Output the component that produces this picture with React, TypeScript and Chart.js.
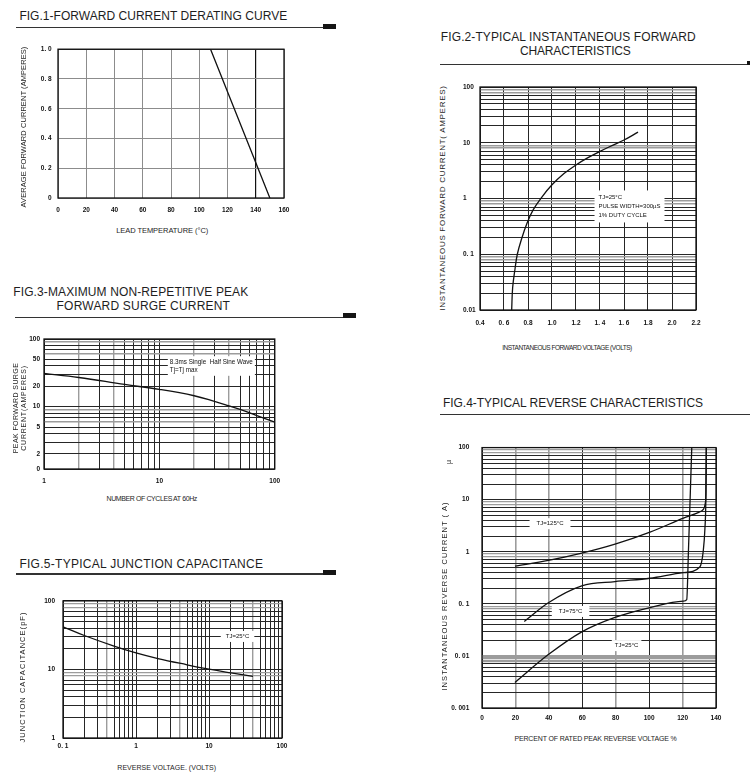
import React, { useEffect, useRef } from "react";
import { Chart, registerables } from "chart.js";
Chart.register(...registerables);

// ---------------- DATA ----------------
// Fig.1 forward current derating curve
const derateTemp = [0, 108, 150];
const derateCurrent = [1.0, 1.0, 0];
const derateXTicks = [0, 20, 40, 60, 80, 100, 120, 140, 160];
const derateXLabels = ["0", "20", "40", "60", "80", "100", "120", "140", "160"];
const derateYTicks = [0, 0.2, 0.4, 0.6, 0.8, 1.0];
const derateYLabels = ["0", "0. 2", "0. 4", "0. 6", "0. 8", "1. 0"];

// Fig.2 typical instantaneous forward characteristics
const fwdVoltage = [0.664, 0.672, 0.692, 0.711, 0.747, 0.794, 0.844, 0.914, 1.0, 1.1, 1.2, 1.3, 1.4, 1.5, 1.6, 1.717];
const fwdCurrent = [0.01, 0.025, 0.055, 0.1, 0.19, 0.37, 0.63, 1.05, 1.76, 2.8, 4.0, 5.4, 7.0, 8.9, 11.2, 15.5];
const fwdXTicks = [0.4, 0.6, 0.8, 1.0, 1.2, 1.4, 1.6, 1.8, 2.0, 2.2];
const fwdXLabels = ["0.4", "0. 6", "0.8", "1.0", "1.2", "1. 4", "1. 6", "1.8", "2.0", "2.2"];
const fwdYLabelValues = [0.01, 0.1, 1, 10, 100];
const fwdYLabels = ["0.01", "0. 1", "1", "10", "100"];

// Fig.3 maximum non-repetitive peak forward surge current
const surgeCycles = [1, 2, 5, 10, 20, 30, 40, 50, 70, 100];
const surgeCurrent = [31, 27, 21.3, 18, 14.5, 12, 10.3, 9.1, 7.4, 5.9];
const surgeXLabelValues = [1, 10, 100];
const surgeXLabels = ["1", "10", "100"];
const surgeYLabelValues = [1.2, 2, 5, 10, 20, 50, 100];
const surgeYLabels = ["0", "2", "5", "10", "20", "50", "100"];

// Fig.5 typical junction capacitance
const capVoltage = [0.1, 0.2, 0.5, 1, 2, 5, 10, 20, 40];
const capValue = [42, 31, 21.9, 17.4, 14.4, 11.7, 10.1, 8.9, 7.9];
const capXLabelValues = [0.1, 1, 10, 100];
const capXLabels = ["0. 1", "1", "10", "100"];
const capYLabelValues = [1, 10, 100];
const capYLabels = ["1", "10", "100"];

// Fig.4 typical reverse characteristics
const rev125Pct = [19.7, 39.7, 59.7, 79.6, 100.5, 120.5, 130.5, 132.4, 133.6, 134.0, 134.2];
const rev125Cur = [0.53, 0.68, 0.94, 1.4, 2.38, 4.43, 5.9, 6.5, 8.5, 15, 100];
const rev75Pct = [25.3, 39.7, 59.7, 79.6, 100.5, 120.5, 130.3, 132.4, 133.4, 133.9, 134.2];
const rev75Cur = [0.046, 0.105, 0.222, 0.268, 0.31, 0.396, 0.51, 1.05, 2.9, 9, 100];
const rev25Pct = [19.7, 39.7, 59.7, 79.6, 100.5, 120.5, 122.5, 123.5, 124.5, 125.5];
const rev25Cur = [0.0031, 0.0106, 0.029, 0.055, 0.085, 0.113, 0.121, 1, 10, 100];
const revXTicks = [0, 20, 40, 60, 80, 100, 120, 140];
const revXLabels = ["0", "20", "40", "60", "80", "100", "120", "140"];
const revYLabelValues = [0.001, 0.01, 0.1, 1, 10, 100];
const revYLabels = ["0. 001", "0. 01", "0. 1", "1", "10", "100"];

// ---------------- HELPERS ----------------
const FONT = '"Liberation Sans", Arial, sans-serif';
const DARK = "#262626";
const GRAY = "#9c9c9c";

function logGrid(lo: number, hi: number): number[] {
  const out: number[] = [];
  for (let e = Math.floor(Math.log10(lo)); e <= Math.ceil(Math.log10(hi)); e++) {
    for (let m = 1; m <= 9; m++) {
      const v = +(m * Math.pow(10, e)).toPrecision(6);
      if (v >= lo - 1e-12 && v <= hi + 1e-12) out.push(v);
    }
  }
  if (!out.some((v) => Math.abs(v - lo) < 1e-12)) out.unshift(lo);
  return out;
}
function mant(v: number): number {
  return Math.round(v / Math.pow(10, Math.floor(Math.log10(v) + 1e-9)));
}

type AxisSpec = {
  type: "linear" | "logarithmic";
  min: number;
  max: number;
  grid: number[];
  labelValues: number[];
  labels: string[];
  style: (v: number) => [string, number];
  pad: number;
  size: number;
  cross?: "near" | "far" | "center";
};
type Series = { x: number[]; y: number[]; curve: "straight" | "smooth" | "monotone" };
type Note = { x: number; y: number; lines: string[]; size: number; lh: number; padX: number; padY: number };
type PanelSpec = {
  left: number;
  top: number;
  width: number;
  height: number;
  padTop: number;
  padRight: number;
  x: AxisSpec;
  y: AxisSpec;
  series: Series[];
  notes: Note[];
};

function axisOptions(a: AxisSpec, isX: boolean) {
  const label = (v: number) => {
    const i = a.labelValues.findIndex((t) => Math.abs(t - v) <= 1e-9 * Math.max(1, Math.abs(t)));
    return i >= 0 ? a.labels[i] : "";
  };
  return {
    type: a.type,
    min: a.min,
    max: a.max,
    position: isX ? "bottom" : "left",
    afterBuildTicks: (s: any) => {
      s.ticks = a.grid.map((v) => ({ value: v }));
    },
    afterFit: (s: any) => {
      if (isX) s.height = a.size;
      else s.width = a.size;
    },
    border: { display: false },
    grid: {
      drawTicks: false,
      color: (c: any) => (c.tick ? a.style(c.tick.value)[0] : DARK),
      lineWidth: (c: any) => (c.tick ? a.style(c.tick.value)[1] : 1),
    },
    ticks: {
      autoSkip: false,
      maxRotation: 0,
      minRotation: 0,
      padding: a.pad,
      crossAlign: a.cross || "near",
      color: "#111",
      font: { family: FONT, size: 6.5, weight: "bold" },
      callback: (v: any) => label(Number(v)),
    },
  };
}

const framePlugin = {
  id: "frame",
  afterDraw(chart: any) {
    const { left, top, right, bottom } = chart.chartArea;
    const ctx = chart.ctx;
    ctx.save();
    ctx.strokeStyle = "#111";
    ctx.lineWidth = 1.3;
    ctx.strokeRect(left, top, right - left, bottom - top);
    ctx.restore();
  },
};

function notesPlugin(notes: Note[]) {
  return {
    id: "notes",
    afterDatasetsDraw(chart: any) {
      const ctx = chart.ctx;
      const xs = chart.scales.x;
      const ys = chart.scales.y;
      for (const n of notes) {
        ctx.save();
        ctx.font = `${n.size}px ${FONT}`;
        const w = Math.max(...n.lines.map((l) => ctx.measureText(l).width));
        const h = n.lh * n.lines.length;
        const cx = xs.getPixelForValue(n.x);
        const cy = ys.getPixelForValue(n.y);
        ctx.fillStyle = "#fff";
        ctx.fillRect(cx - w / 2 - n.padX, cy - h / 2 - n.padY, w + 2 * n.padX, h + 2 * n.padY);
        ctx.fillStyle = "#111";
        ctx.textBaseline = "middle";
        ctx.textAlign = "left";
        n.lines.forEach((l, i) => ctx.fillText(l, cx - w / 2, cy - h / 2 + n.lh * (i + 0.5)));
        ctx.restore();
      }
    },
  };
}

function buildConfig(p: PanelSpec) {
  return {
    type: "line",
    data: {
      datasets: p.series.map((s) => ({
        data: s.x.map((x, i) => ({ x, y: s.y[i] })),
        borderColor: "#111",
        borderWidth: 1.3,
        pointRadius: 0,
        fill: false,
        tension: s.curve === "smooth" ? 0.4 : 0,
        cubicInterpolationMode: s.curve === "monotone" ? "monotone" : "default",
      })),
    },
    options: {
      responsive: false,
      animation: false,
      events: [],
      layout: { padding: { top: p.padTop, right: p.padRight, left: 0, bottom: 0 } },
      plugins: { legend: { display: false }, tooltip: { enabled: false }, title: { display: false } },
      scales: { x: axisOptions(p.x, true), y: axisOptions(p.y, false) },
    },
    plugins: [framePlugin, notesPlugin(p.notes)],
  };
}

function Panel({ spec }: { spec: PanelSpec }) {
  const ref = useRef<HTMLCanvasElement>(null);
  useEffect(() => {
    const chart = new Chart(ref.current as HTMLCanvasElement, buildConfig(spec) as any);
    return () => chart.destroy();
  }, [spec]);
  return (
    <canvas
      ref={ref}
      width={spec.width}
      height={spec.height}
      style={{ position: "absolute", left: spec.left, top: spec.top, width: spec.width, height: spec.height }}
    />
  );
}

let mctx: CanvasRenderingContext2D | null = null;
function spacingFor(text: string, size: number, weight: number, target: number) {
  if (typeof document === "undefined") return 0;
  if (!mctx) mctx = document.createElement("canvas").getContext("2d");
  if (!mctx) return 0;
  mctx.font = `${weight} ${size}px ${FONT}`;
  const w = mctx.measureText(text).width;
  return text.length > 1 ? (target - w) / (text.length - 1) : 0;
}

function Label({ text, x, y, w, size = 7, rot = false, weight = 400 }: { text: string; x: number; y: number; w: number; size?: number; rot?: boolean; weight?: number }) {
  const ls = spacingFor(text, size, weight, w);
  return (
    <div
      style={{
        position: "absolute",
        left: x,
        top: y,
        fontFamily: FONT,
        fontSize: size,
        fontWeight: weight,
        lineHeight: 1,
        whiteSpace: "nowrap",
        letterSpacing: ls,
        color: "#1e1e1e",
        transform: rot ? "translate(-50%,-50%) rotate(-90deg)" : "translate(-50%,-50%)",
      }}
    >
      {text}
    </div>
  );
}

function Title({ text, left, baseline, w }: { text: string; left: number; baseline: number; w: number }) {
  const size = 12;
  return <Label text={text} x={left + w / 2} y={baseline - 0.3465 * size} w={w} size={size} />;
}

function Rule({ x1, x2, y, bx1, bx2, by1, by2 }: { x1: number; x2: number; y: number; bx1?: number; bx2?: number; by1?: number; by2?: number }) {
  return (
    <>
      <div style={{ position: "absolute", left: x1, top: y - 0.7, width: x2 - x1, height: 1.4, background: "#333" }} />
      {bx1 !== undefined && (
        <div style={{ position: "absolute", left: bx1, top: by1, width: (bx2 as number) - bx1, height: (by2 as number) - (by1 as number), background: "#151515" }} />
      )}
    </>
  );
}

// ---------------- PANELS ----------------
const fig1: PanelSpec = {
  left: 20, top: 39, width: 278, height: 181, padTop: 10, padRight: 14,
  x: {
    type: "linear", min: 0, max: 160, grid: derateXTicks, labelValues: derateXTicks, labels: derateXLabels,
    style: (v) => (Math.abs(v - 140) < 1e-6 ? ["#111", 1.2] : ["#8c8c8c", 1]), pad: 8, size: 22,
  },
  y: {
    type: "linear", min: 0, max: 1, grid: derateYTicks, labelValues: derateYTicks, labels: derateYLabels,
    style: () => ["#8c8c8c", 1], pad: 6.3, size: 38,
  },
  series: [{ x: derateTemp, y: derateCurrent, curve: "straight" }],
  notes: [],
};

const fig2: PanelSpec = {
  left: 463, top: 77, width: 247, height: 255, padTop: 10, padRight: 14,
  x: {
    type: "linear", min: 0.4, max: 2.2, grid: fwdXTicks, labelValues: fwdXTicks, labels: fwdXLabels,
    style: () => [DARK, 1], pad: 9.4, size: 22,
  },
  y: {
    type: "logarithmic", min: 0.01, max: 100, grid: logGrid(0.01, 100), labelValues: fwdYLabelValues, labels: fwdYLabels,
    style: (v) => ([8, 9].includes(mant(v)) ? [GRAY, 1.4] : [DARK, 1]), pad: 0, size: 17, cross: "far",
  },
  series: [{ x: fwdVoltage, y: fwdCurrent, curve: "smooth" }],
  notes: [{ x: 1.646, y: 0.72, lines: ["TJ=25°C", "PULSE WIDTH=300µS", "1% DUTY CYCLE"], size: 6, lh: 9, padX: 4, padY: 2.5 }],
};

const fig3: PanelSpec = {
  left: 20, top: 329, width: 269, height: 162, padTop: 10, padRight: 14,
  x: {
    type: "logarithmic", min: 1, max: 100, grid: logGrid(1, 100), labelValues: surgeXLabelValues, labels: surgeXLabels,
    style: (v) => ([2, 4].includes(mant(v)) ? [GRAY, 1.4] : [DARK, 1]), pad: 8.8, size: 22,
  },
  y: {
    type: "logarithmic", min: 1.2, max: 100, grid: logGrid(1.2, 100), labelValues: surgeYLabelValues, labels: surgeYLabels,
    style: (v) => ([6, 9].includes(mant(v)) && v > 1.3 ? [GRAY, 1.4] : [DARK, 1]), pad: 4, size: 24,
  },
  series: [{ x: surgeCycles, y: surgeCurrent, curve: "smooth" }],
  notes: [{ x: 28.2, y: 39.9, lines: ["8.3ms Single  Half Sine Wave", "Tj=Tj max"], size: 6.3, lh: 8.3, padX: 2, padY: 1.5 }],
};

const fig5: PanelSpec = {
  left: 35, top: 589, width: 261, height: 169, padTop: 10, padRight: 14,
  x: {
    type: "logarithmic", min: 0.1, max: 100, grid: logGrid(0.1, 100), labelValues: capXLabelValues, labels: capXLabels,
    style: (v) => (mant(v) === 4 ? [GRAY, 1.4] : [DARK, 1]), pad: 4.8, size: 20,
  },
  y: {
    type: "logarithmic", min: 1, max: 100, grid: logGrid(1, 100), labelValues: capYLabelValues, labels: capYLabels,
    style: (v) => ([8, 9].includes(mant(v)) ? [GRAY, 1.2] : [DARK, 1]), pad: 8, size: 28,
  },
  series: [{ x: capVoltage, y: capValue, curve: "smooth" }],
  notes: [{ x: 24.6, y: 30.3, lines: ["TJ=25°C"], size: 6, lh: 8, padX: 5, padY: 1.5 }],
};

const fig4: PanelSpec = {
  left: 440, top: 431, width: 290, height: 297, padTop: 10, padRight: 14,
  x: {
    type: "linear", min: 0, max: 140, grid: revXTicks, labelValues: revXTicks, labels: revXLabels,
    style: (v) => ([20, 40, 80, 120].some((t) => Math.abs(t - v) < 1e-6) ? [GRAY, 1.6] : [DARK, 1]), pad: 6, size: 20,
  },
  y: {
    type: "logarithmic", min: 0.001, max: 100, grid: logGrid(0.001, 100), labelValues: revYLabelValues, labels: revYLabels,
    style: (v) =>
      [0.008, 0.009, 0.01].some((t) => Math.abs(t - v) < 1e-9)
        ? [GRAY, 2.2]
        : [8, 9].includes(mant(v))
        ? [GRAY, 1.3]
        : [DARK, 1],
    pad: 12.7, size: 42,
  },
  series: [
    { x: rev125Pct, y: rev125Cur, curve: "monotone" },
    { x: rev75Pct, y: rev75Cur, curve: "monotone" },
    { x: rev25Pct, y: rev25Cur, curve: "monotone" },
  ],
  notes: [
    { x: 40.7, y: 3.46, lines: ["TJ=125°C"], size: 6, lh: 8, padX: 7, padY: 1.5 },
    { x: 53, y: 0.0714, lines: ["TJ=75°C"], size: 6, lh: 8, padX: 7, padY: 1.5 },
    { x: 86.5, y: 0.0158, lines: ["TJ=25°C"], size: 6, lh: 8, padX: 3, padY: 1.5 },
  ],
};

export default function App() {
  return (
    <div style={{ position: "absolute", left: 0, top: 0, width: 750, height: 780, background: "#fff", overflow: "hidden" }}>
      {/* Fig.1 */}
      <Title text="FIG.1-FORWARD CURRENT DERATING CURVE" left={19.3} baseline={20} w={268} />
      <Rule x1={16} x2={323} y={27.7} bx1={323} bx2={336} by1={24} by2={28.7} />
      <Panel spec={fig1} />
      <Label text="AVERAGE FORWARD CURRENT  (AMPERES)" x={23.7} y={126.5} w={163} rot size={7.5} />
      <Label text="LEAD TEMPERATURE (°C)" x={162.2} y={230.5} w={92.3} size={7.5} />

      {/* Fig.2 */}
      <Title text="FIG.2-TYPICAL INSTANTANEOUS FORWARD" left={440.7} baseline={40.7} w={255.3} />
      <Title text="CHARACTERISTICS" left={520} baseline={55} w={110.7} />
      <Rule x1={440} x2={747} y={64.3} bx1={747} bx2={750} by1={60.7} by2={65} />
      <Panel spec={fig2} />
      <Label text="INSTANTANEOUS FORWARD CURRENT( AMPERES)" x={442.8} y={197.5} w={225} rot size={8} />
      <Label text="INSTANTANEOUS FORWARD VOLTAGE (VOLTS)" x={567} y={348} w={130} size={6.5} />

      {/* Fig.3 */}
      <Title text="FIG.3-MAXIMUM NON-REPETITIVE PEAK" left={13.3} baseline={296} w={235} />
      <Title text="FORWARD SURGE CURRENT" left={56.7} baseline={310} w={173.3} />
      <Rule x1={15} x2={343} y={317.3} bx1={343} bx2={356} by1={313} by2={318} />
      <Panel spec={fig3} />
      <Label text="PEAK FORWARD SURGE" x={15} y={408.3} w={90} rot size={7} />
      <Label text="CURRENT(AMPERES)" x={22.7} y={408.3} w={84.7} rot size={7} />
      <Label text="NUMBER OF CYCLES AT 60Hz" x={151.7} y={498.3} w={91.3} size={7} />

      {/* Fig.5 */}
      <Title text="FIG.5-TYPICAL JUNCTION CAPACITANCE" left={19.3} baseline={567.7} w={244} />
      <Rule x1={16} x2={323} y={574} bx1={323} bx2={336} by1={570} by2={574.5} />
      <Panel spec={fig5} />
      <Label text="JUNCTION CAPACITANCE(pF)" x={23} y={676.7} w={130} rot size={7.5} />
      <Label text="REVERSE VOLTAGE. (VOLTS)" x={166.7} y={766.7} w={98.7} size={7} />

      {/* Fig.4 */}
      <Title text="FIG.4-TYPICAL REVERSE CHARACTERISTICS" left={442.7} baseline={406.7} w={260.6} />
      <Rule x1={440} x2={750} y={414.3} />
      <Panel spec={fig4} />
      <Label text="INSTANTANEOUS REVERSE CURRENT (  A)" x={445} y={595.8} w={191.7} rot size={7.5} />
      <Label text="µ" x={448} y={462} w={4} rot size={7} />
      <Label text="PERCENT OF RATED PEAK REVERSE VOLTAGE %" x={595.5} y={738.3} w={162.4} size={7} />
    </div>
  );
}
